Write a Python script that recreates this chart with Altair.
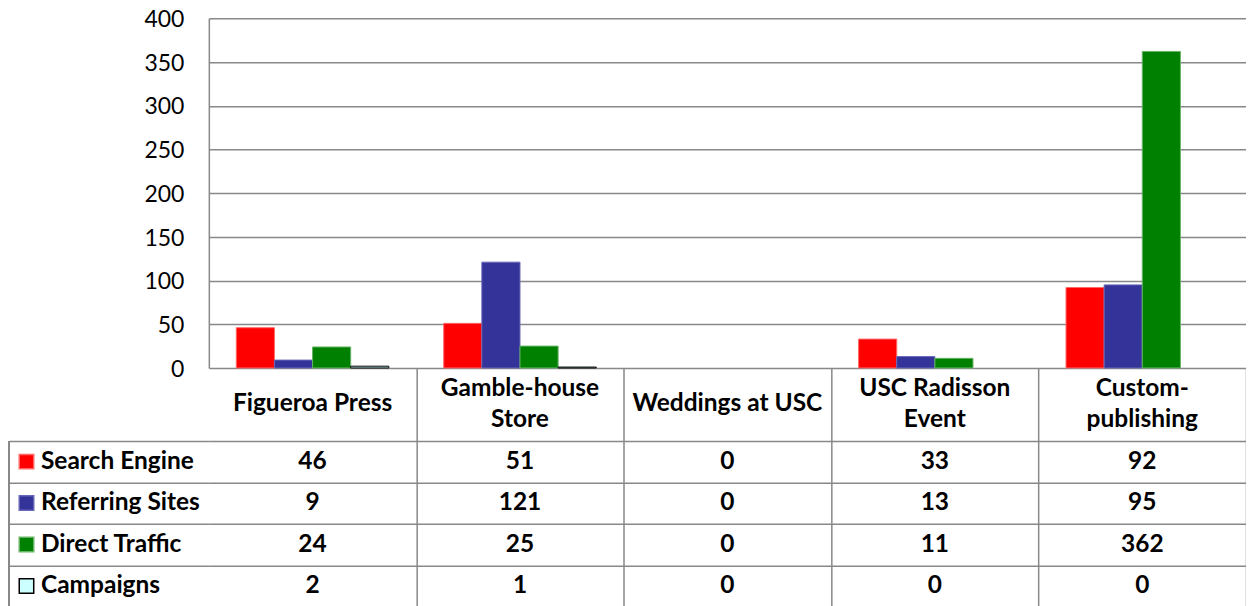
import altair as alt
import pandas as pd

categories = ["Figueroa Press", "Gamble-house Store", "Weddings at USC", "USC Radisson Event", "Custom-publishing"]
category_labels = ["Figueroa Press", "Gamble-house\nStore", "Weddings at USC", "USC Radisson\nEvent", "Custom-\npublishing"]
series = ["Search Engine", "Referring Sites", "Direct Traffic", "Campaigns"]
search_engine = [46, 51, 0, 33, 92]
referring_sites = [9, 121, 0, 13, 95]
direct_traffic = [24, 25, 0, 11, 362]
campaigns = [2, 1, 0, 0, 0]
y_ticks = [0, 50, 100, 150, 200, 250, 300, 350, 400]

fill_colors = ["#FF0000", "#333399", "#008000", "#CCFFFF"]
stroke_colors = ["#FF6666", "#6666B8", "#66B366", "#000000"]

values = [search_engine, referring_sites, direct_traffic, campaigns]
rows = []
for s, vals in zip(series, values):
    for c, v in zip(categories, vals):
        rows.append({"category": c, "series": s, "value": v})
df = pd.DataFrame(rows)
cat_df = pd.DataFrame({"category": categories, "label": category_labels})
ser_df = pd.DataFrame({"series": series})

FONT = "Lato"
FS = 24.5
GRID = "#888888"
W = 1038
H_PLOT = 350
H_HEAD = 73
ROW = 41.5
LINE_H = 31

color_scale = alt.Scale(domain=series, range=fill_colors)
stroke_scale = alt.Scale(domain=series, range=stroke_colors)
x_scale = alt.Scale(domain=categories, paddingInner=0, paddingOuter=0)

grid_color = {"condition": {"test": "datum.extra", "value": "transparent"}, "value": GRID}

bars = alt.Chart(df).transform_filter("datum.value > 0").mark_bar(strokeWidth=1).encode(
    x=alt.X("category:N", sort=categories, scale=x_scale, axis=None),
    xOffset=alt.XOffset("series:N", sort=series,
                        scale=alt.Scale(domain=series, paddingInner=0, paddingOuter=0.72)),
    y=alt.Y("value:Q", scale=alt.Scale(domain=[0, 400], nice=False),
            axis=alt.Axis(title=None, values=y_ticks, ticks=False, labelPadding=25,
                          labelFont=FONT, labelFontSize=23, labelColor="#000000",
                          labelBaseline="alphabetic", labelOffset=8.3,
                          domainColor=GRID, domainWidth=1.5,
                          grid=True, gridColor=GRID, gridWidth=1.5)),
    color=alt.Color("series:N", scale=color_scale, legend=None),
    stroke=alt.Stroke("series:N", scale=stroke_scale, legend=None),
).properties(width=W, height=H_PLOT)

x_table_axis = alt.Axis(title=None, labels=False, ticks=False, domain=False,
                        grid=True, gridColor=grid_color, gridWidth=1.5, tickBand="extent")

head_text = dict(font=FONT, fontSize=FS, fontWeight="bold", color="#000000",
                 lineBreak="\n", lineHeight=LINE_H, baseline="middle", align="center")

head_one = alt.Chart(cat_df).transform_filter("indexof(datum.label, '\\n') < 0").mark_text(
    **head_text
).encode(
    x=alt.X("category:N", sort=categories, scale=x_scale, axis=x_table_axis),
    y=alt.value(H_HEAD / 2),
    text="label:N",
)

head_two = alt.Chart(cat_df).transform_filter("indexof(datum.label, '\\n') >= 0").mark_text(
    **head_text
).encode(
    x=alt.X("category:N", sort=categories, scale=x_scale, axis=x_table_axis),
    y=alt.value(H_HEAD / 2 - LINE_H / 2),
    text="label:N",
)

header = alt.layer(head_one, head_two).properties(width=W, height=H_HEAD)

cells = alt.Chart(df).mark_text(
    font=FONT, fontSize=FS, fontWeight="bold", color="#000000", baseline="middle", align="center"
).encode(
    x=alt.X("category:N", sort=categories, scale=x_scale, axis=x_table_axis),
    y=alt.Y("series:N", sort=series, scale=alt.Scale(domain=series, paddingInner=0, paddingOuter=0),
            axis=alt.Axis(title=None, labels=False, ticks=True, tickSize=200, tickColor=GRID,
                          tickWidth=1.5, domain=False, grid=True, gridColor=GRID, gridWidth=1.5,
                          tickBand="extent")),
    text="value:Q",
)

row_labels = alt.Chart(ser_df).mark_text(
    font=FONT, fontSize=FS, fontWeight="bold", color="#000000", baseline="middle", align="left"
).encode(
    x=alt.value(-168),
    y=alt.Y("series:N", sort=series),
    text="series:N",
)

swatches = alt.Chart(ser_df).mark_square(size=210, opacity=1, strokeWidth=1.5).encode(
    x=alt.value(-182.5),
    y=alt.Y("series:N", sort=series),
    fill=alt.Fill("series:N", scale=color_scale, legend=None),
    stroke=alt.Stroke("series:N", scale=alt.Scale(domain=series, range=fill_colors[:3] + ["#000000"]),
                      legend=None),
)

left_border = alt.Chart(ser_df).mark_rule(color=GRID, strokeWidth=1.5).encode(
    x=alt.value(-200), y=alt.value(0), y2=alt.value(4 * ROW)
)

table = alt.layer(cells, row_labels, swatches, left_border).properties(width=W, height=4 * ROW)

chart = alt.vconcat(bars, header, table, spacing=0, bounds="flush").properties(
    padding=0).configure_view(stroke=None)

chart.save("out.html", embed_options={"renderer": "svg", "actions": False})
